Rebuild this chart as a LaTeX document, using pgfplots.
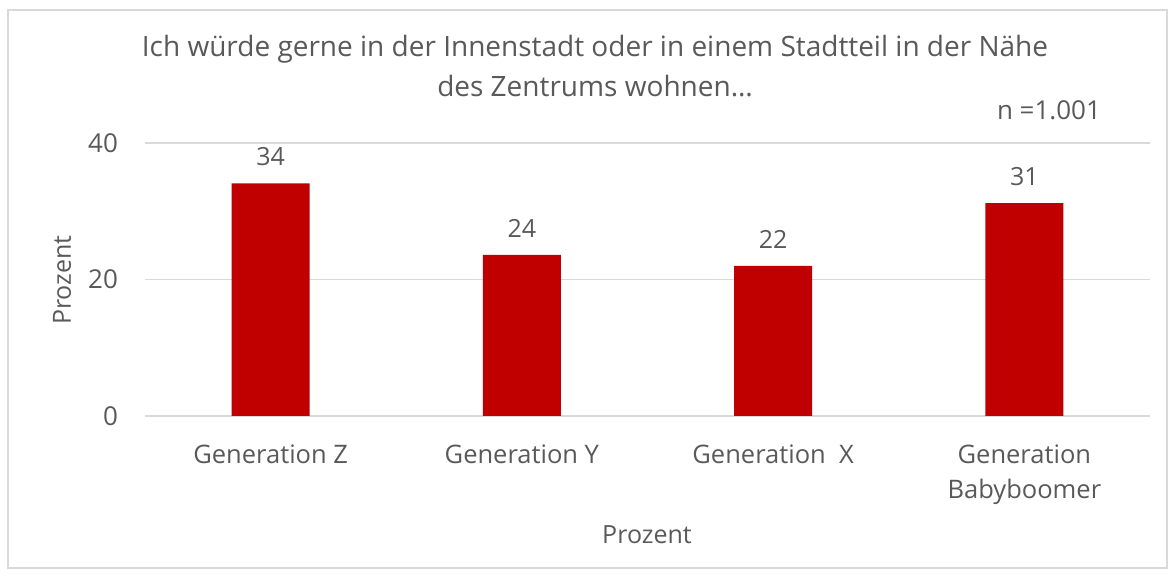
\documentclass[border=0pt]{standalone}
\usepackage{pgfplots}
\pgfplotsset{compat=1.18}
\usepackage{fontspec}
\setmainfont{Open Sans}
\definecolor{txt}{HTML}{595959}
\definecolor{grd}{HTML}{D9D9D9}
\definecolor{barred}{HTML}{C00000}
\begin{document}
\begin{tikzpicture}
\begin{axis}[
  scale only axis,
  width=502.5pt, height=136.5pt,
  xmin=-0.5, xmax=3.5,
  ymin=0, ymax=40,
  ytick={0,20,40},
  xtick={0,1,2,3},
  xticklabels={Generation Z, Generation Y, Generation\ \ X, {Generation\\Babyboomer}},
  xticklabel style={align=center, font=\fontsize{12.75}{17.5}\selectfont, text=txt, yshift=-11pt},
  yticklabel style={font=\fontsize{13}{15}\selectfont, text=txt, xshift=-10pt},
  /pgf/number format/assume math mode=true,
  axis line style={draw=none},
  major tick length=0pt,
  ymajorgrids,
  grid style={grd, line width=0.8pt},
  ybar,
  bar width=39pt,
  clip=false,
  nodes near coords,
  nodes near coords style={font=\fontsize{12.5}{15}\selectfont, text=txt, /pgf/number format/fixed, /pgf/number format/precision=0, yshift=5pt},
  xlabel={Prozent},
  ylabel={Prozent},
  xlabel style={at={(axis description cs:0.4995,-0.436)}, anchor=center, font=\fontsize{12.5}{15}\selectfont, text=txt},
  ylabel style={at={(axis description cs:-0.0826,0.498)}, anchor=center, rotate=0, font=\fontsize{12.5}{15}\selectfont, text=txt},
]
\addplot[fill=barred, draw=none] coordinates {(0,34.1) (1,23.6) (2,22.0) (3,31.2)};
\end{axis}
\path[use as bounding box] ([shift={(-72.5pt,-80pt)}]current axis.south west) rectangle ([shift={(515pt,208pt)}]current axis.south west);
\draw[grd, line width=0.8pt] ([shift={(-68.5pt,-76pt)}]current axis.south west) rectangle ([shift={(511pt,203pt)}]current axis.south west);
\node[align=center, text=txt, font=\fontsize{14}{20}\selectfont] at ([shift={(225pt,175pt)}]current axis.south west) {Ich würde gerne in der Innenstadt oder in einem Stadtteil in der Nähe\\des Zentrums wohnen…};
\node[text=txt, font=\fontsize{13}{15}\selectfont] at ([shift={(452pt,153pt)}]current axis.south west) {n =1.001};
\end{tikzpicture}
\end{document}
